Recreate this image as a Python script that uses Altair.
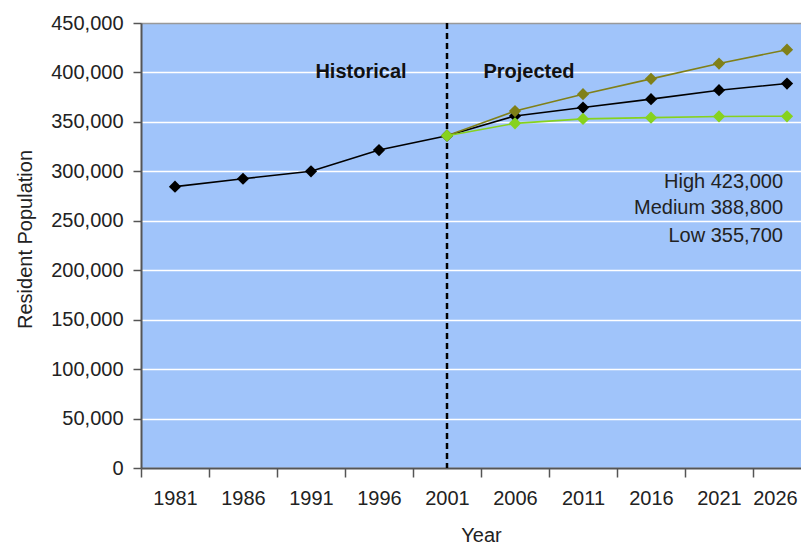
import altair as alt
import pandas as pd

# ---- data ----
years = ["1981", "1986", "1991", "1996", "2001", "2006", "2011", "2016", "2021", "2026"]
hist_years = ["1981", "1986", "1991", "1996", "2001"]
proj_years = ["2001", "2006", "2011", "2016", "2021", "2026"]
historical = [284500, 292500, 300000, 321500, 336000]
medium = [336000, 356000, 364500, 373000, 382000, 388800]
high = [336000, 361000, 378000, 393500, 409000, 423000]
low = [336000, 348500, 353000, 354300, 355500, 355700]
y_ticks = [0, 50000, 100000, 150000, 200000, 250000, 300000, 350000, 400000, 450000]

period_labels = ["Historical", "Projected"]
period_x = ["1996", "2006"]
period_dx = [-18, 14]
period_y = [400000, 400000]

note_labels = ["High 423,000", "Medium 388,800", "Low 355,700"]
note_y = [289200, 262900, 234600]

FONT = "Liberation Sans"
BG = "#a0c4fa"
OLIVE = "#808018"
GREEN = "#86d21e"

black_df = pd.DataFrame({"year": hist_years + proj_years[1:],
                         "value": historical + medium[1:]})
high_df = pd.DataFrame({"year": proj_years, "value": high})
low_df = pd.DataFrame({"year": proj_years, "value": low})
note_df = pd.DataFrame({"year": ["2026"] * 3, "value": note_y, "label": note_labels})
rule_df = pd.DataFrame({"year": ["2001"]})

xscale = alt.Scale(type="band", domain=years, range=[0, 680], paddingInner=0, paddingOuter=0)
yscale = alt.Scale(domain=[0, 450000], nice=False)

xaxis = alt.Axis(title="Year", labelAngle=0, tickBand="extent", grid=False,
                 domainColor="#555555", domainWidth=2, tickColor="#555555", tickWidth=1.5,
                 tickSize=9, labelPadding=11, labelFont=FONT, labelFontSize=20,
                 labelColor="#222222", titleFont=FONT, titleFontSize=20,
                 titleFontWeight="normal", titleColor="#222222",
                 labelOffset=alt.condition("datum.value == '2026'", alt.value(-12), alt.value(0)),
                 titleY=67, titleBaseline="middle")
yaxis = alt.Axis(title="Resident Population", values=y_ticks, format=",.0f",
                 grid=True,
                 gridColor=alt.condition("datum.value >= 450000", alt.value("#999999"), alt.value("white")),
                 gridWidth=1.5, domainColor="#555555", domainWidth=2,
                 tickColor="#555555", tickWidth=1.5, tickSize=8, labelPadding=10,
                 labelFont=FONT, labelFontSize=20, labelColor="#222222",
                 titleFont=FONT, titleFontSize=20, titleFontWeight="normal",
                 titleColor="#222222", titleX=-116, titleY=216, titleBaseline="middle")

X = lambda: alt.X("year:O", scale=xscale, bandPosition=0.5, axis=xaxis)
Y = lambda: alt.Y("value:Q", scale=yscale, axis=yaxis)


def series(df, color):
    base = alt.Chart(df).encode(x=X(), y=Y())
    line = base.mark_line(color=color, strokeWidth=1.6)
    pts = base.mark_point(shape="diamond", filled=True, size=150, color=color, opacity=1)
    return line + pts


rule = alt.Chart(rule_df).mark_rule(color="black", strokeWidth=2.5, strokeDash=[6, 4]).encode(
    x=alt.X("year:O", scale=xscale, bandPosition=0.5, axis=xaxis)
)

period_text = alt.layer(*[
    alt.Chart(pd.DataFrame({"year": [period_x[i]], "value": [period_y[i]],
                            "label": [period_labels[i]]})).mark_text(
        font=FONT, fontSize=20, fontWeight="bold", color="#111111",
        baseline="middle", dx=period_dx[i]
    ).encode(x=X(), y=Y(), text="label:N")
    for i in range(len(period_labels))
])

notes = alt.Chart(note_df).mark_text(
    font=FONT, fontSize=20, color="#222222", align="right", baseline="middle", dx=-4
).encode(x=X(), y=Y(), text="label:N")

chart = alt.layer(
    rule,
    series(black_df, "black"),
    series(high_df, OLIVE),
    series(low_df, GREEN),
    period_text,
    notes,
).properties(
    width=660, height=445,
    autosize=alt.AutoSizeParams(type="none"),
    padding={"left": 133, "top": 15, "right": 0, "bottom": 76},
).configure_view(stroke=None, fill=BG)

chart.save("out.html", embed_options={"renderer": "svg", "actions": False})
